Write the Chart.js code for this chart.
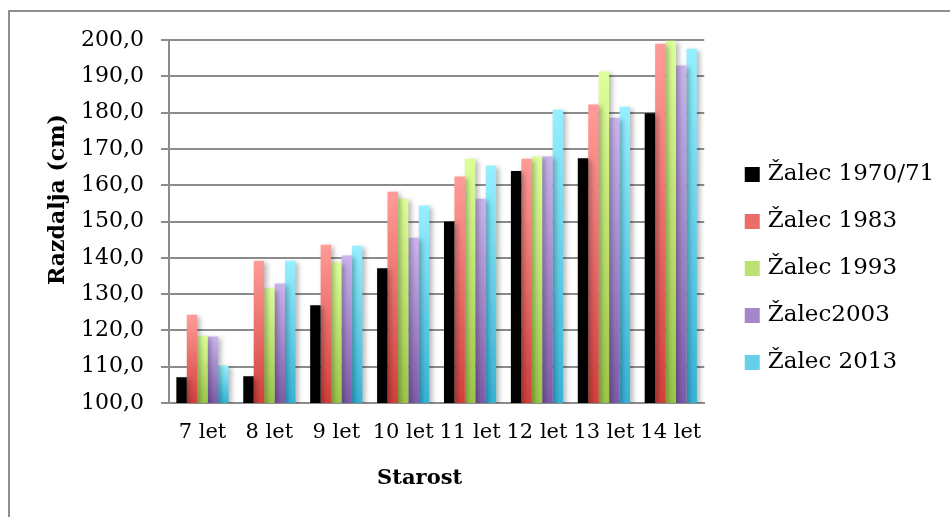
<!DOCTYPE html>
<html>
<head>
<meta charset="utf-8">
<script src="https://cdn.jsdelivr.net/npm/chart.js@4"></script>
<style>
  html, body { margin: 0; padding: 0; background: #fff; }
  #wrap { position: relative; width: 950px; height: 517px; overflow: hidden; }
  #frame { position: absolute; left: 8px; top: 10px; width: 960px; height: 520px;
           border-left: 2px solid #8f8f8f; border-top: 2px solid #8f8f8f; }
  canvas { position: absolute; left: 0; top: 0; }
</style>
</head>
<body>
<div id="wrap">
  <div id="frame"></div>
  <canvas id="c" width="950" height="517"></canvas>
</div>
<script>
// Age groups and mean height per survey year (cm)
const categories = ['7 let', '8 let', '9 let', '10 let', '11 let', '12 let', '13 let', '14 let'];
const seriesNames = ['Žalec 1970/71', 'Žalec 1983', 'Žalec 1993', 'Žalec2003', 'Žalec 2013'];
const zalec1970 = [107.1, 107.4, 126.9, 137.1, 150.0, 163.9, 167.4, 179.8];
const zalec1983 = [124.3, 139.2, 143.6, 158.2, 162.4, 167.3, 182.2, 199.0];
const zalec1993 = [118.5, 131.6, 138.8, 156.3, 167.3, 167.9, 191.3, 199.8];
const zalec2003 = [118.3, 132.9, 140.6, 145.5, 156.3, 167.9, 178.6, 193.0];
const zalec2013 = [110.3, 139.2, 143.3, 154.4, 165.4, 180.8, 181.6, 197.6];
const yMin = 100, yMax = 200, yStep = 10;

const FONT = "'DejaVu Serif', serif";

// vertical gradient per bar: light at the top, deep at the base
function barGradient(top, bottom, mid) {
  return (c) => {
    const chart = c.chart;
    if (c.type !== 'data' || !chart.chartArea) return mid;
    const y = chart.scales.y;
    const yTop = y.getPixelForValue(c.raw);
    const yBot = y.getPixelForValue(yMin);
    if (!isFinite(yTop) || !isFinite(yBot) || yBot - yTop < 1) return mid;
    const g = chart.ctx.createLinearGradient(0, yTop, 0, yBot);
    g.addColorStop(0, top);
    g.addColorStop(1, bottom);
    return g;
  };
}

const palette = [
  ['#000000', '#000000', '#000000'],
  ['#ff9c98', '#d33f3b', '#ea6d69'],
  ['#ddff99', '#9bc548', '#bde172'],
  ['#cab4ed', '#7d5ba9', '#a487cb'],
  ['#97efff', '#35b2d5', '#66d0ea']
];
const values = [zalec1970, zalec1983, zalec1993, zalec2003, zalec2013];

const datasets = values.map((vals, i) => ({
  label: seriesNames[i],
  data: vals,
  backgroundColor: barGradient(palette[i][0], palette[i][1], palette[i][2]),
  borderWidth: 0,
  categoryPercentage: 0.78,
  barPercentage: 1.0
}));

// soft drop shadow under the bars
const shadowPlugin = {
  id: 'softShadow',
  beforeDatasetsDraw(chart) {
    const ctx = chart.ctx;
    ctx.save();
    ctx.shadowColor = 'rgba(0,0,0,0.28)';
    ctx.shadowBlur = 5;
    ctx.shadowOffsetX = 3;
    ctx.shadowOffsetY = 2;
  },
  afterDatasetsDraw(chart) { chart.ctx.restore(); }
};

// nudge the legend block right and down, and pull both axis titles
// a little toward the origin
const layoutNudge = {
  id: 'layoutNudge',
  afterLayout(chart) {
    const lg = chart.legend;
    if (lg) {
      lg.left += 20; lg.right += 20;
      lg.top += 3; lg.bottom += 3;
    }
    const shiftTitle = (scale, dx, dy) => {
      if (!scale || scale._titleShifted) return;
      const orig = scale.drawTitle.bind(scale);
      scale.drawTitle = function () {
        const ctx = this.ctx;
        ctx.save();
        ctx.translate(dx, dy);
        orig();
        ctx.restore();
      };
      scale._titleShifted = true;
    };
    shiftTitle(chart.scales.y, 0, -22);
    shiftTitle(chart.scales.x, -17, 0);
  }
};

new Chart(document.getElementById('c'), {
  type: 'bar',
  data: { labels: categories, datasets },
  plugins: [shadowPlugin, layoutNudge],
  options: {
    responsive: false,
    animation: false,
    devicePixelRatio: 1,
    layout: { padding: { left: 45, right: 26, top: 40, bottom: 26 } },
    plugins: {
      tooltip: { enabled: false },
      legend: {
        position: 'right',
        labels: {
          font: { family: FONT, size: 23 },
          color: '#000',
          usePointStyle: true,
          boxWidth: 8,
          boxHeight: 15,
          padding: 24,
          generateLabels(chart) {
            return chart.data.datasets.map((d, i) => ({
              text: d.label,
              fillStyle: palette[i][2],
              strokeStyle: palette[i][2],
              lineWidth: 0,
              pointStyle: 'rect',
              datasetIndex: i,
              fontColor: '#000'
            }));
          }
        }
      }
    },
    scales: {
      x: {
        grid: { display: false, drawTicks: false },
        border: { display: true, color: '#8c8c8c', width: 2 },
        ticks: { font: { family: FONT, size: 21 }, color: '#000', padding: 17, maxRotation: 0, autoSkip: false },
        title: { display: true, text: 'Starost', font: { family: FONT, size: 21, weight: 'bold' }, color: '#000',
                 padding: { top: 0, bottom: 0 } },
        afterFit(scale) { scale.height = 88; }
      },
      y: {
        min: yMin, max: yMax,
        grid: { color: '#8c8c8c', lineWidth: 2, tickLength: 8, drawTicks: true },
        border: { display: true, color: '#8c8c8c', width: 2 },
        ticks: {
          stepSize: yStep,
          font: { family: FONT, size: 22 }, color: '#000', padding: 17,
          callback: (v) => v.toFixed(1).replace('.', ',')
        },
        title: { display: true, text: 'Razdalja (cm)', font: { family: FONT, size: 22, weight: 'bold' }, color: '#000',
                 padding: { top: 0, bottom: 0 } },
        afterFit(scale) { scale.width = 124; }
      }
    }
  }
});
</script>
</body>
</html>
